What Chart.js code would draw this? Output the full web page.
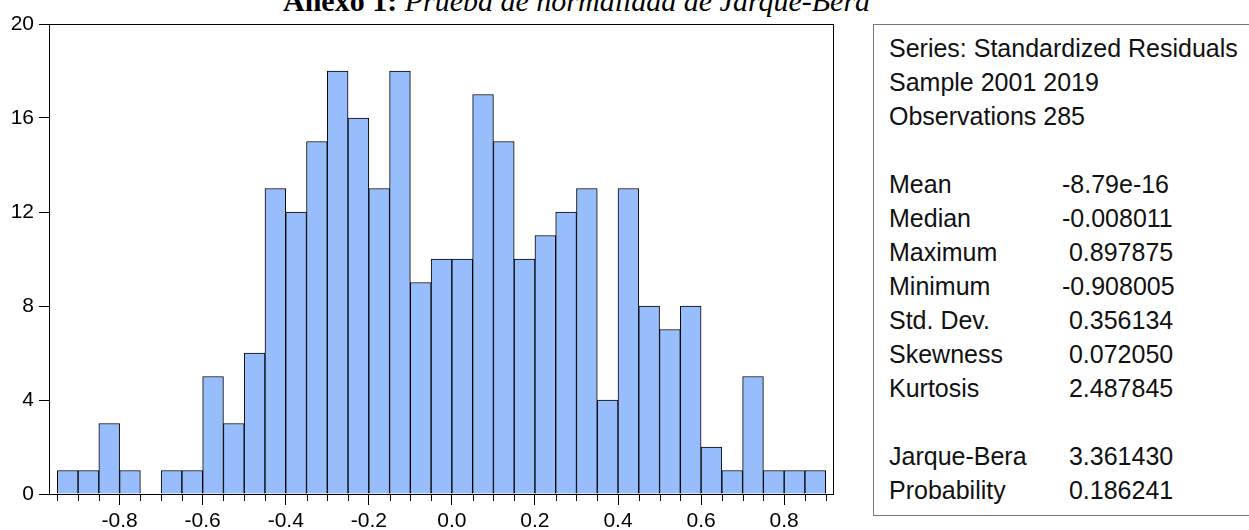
<!DOCTYPE html>
<html lang="es">
<head>
<meta charset="UTF-8">
<title>Histograma residuos</title>
<script src="https://cdn.jsdelivr.net/npm/chart.js"></script>
<style>
  body { margin: 0; background: #fff; width: 1249px; height: 530px; overflow: hidden; position: relative; }
  #title { position: absolute; left: 283px; top: -14px; font-family: "Liberation Serif", "Times New Roman", serif; font-size: 30px; line-height: 30px; white-space: nowrap; color: #000; }
  #title b { font-weight: bold; }
  #title i { font-style: italic; }
  #wrap { position: absolute; left: 0; top: 0; width: 840px; height: 530px; }
  #stats { position: absolute; left: 873px; top: 24px; width: 420px; height: 490px; border: 1px solid #777; border-right: none;
           font-family: "Liberation Sans", Arial, sans-serif; font-size: 25px; line-height: 34px; color: #111; }
  #stats .row { position: relative; height: 34px; white-space: pre; }
  #stats .lab { position: absolute; left: 15px; top: 6px; }
  #stats .val { position: absolute; left: 188px; top: 6px; }
</style>
</head>
<body>
<div id="title"><b>Anexo 1:</b> <i>Prueba de normalidad de Jarque-Bera</i></div>
<div id="wrap"><canvas id="hist"></canvas></div>
<div id="stats"></div>
<script>
// histogram bins (left edge of each bin) and counts
const binStart = [-0.95, -0.90, -0.85, -0.80, -0.75, -0.70, -0.65, -0.60, -0.55, -0.50,
                  -0.45, -0.40, -0.35, -0.30, -0.25, -0.20, -0.15, -0.10, -0.05, 0.00,
                  0.05, 0.10, 0.15, 0.20, 0.25, 0.30, 0.35, 0.40, 0.45, 0.50,
                  0.55, 0.60, 0.65, 0.70, 0.75, 0.80, 0.85];
const counts = [1, 1, 3, 1, 0, 1, 1, 5, 3, 6,
                13, 12, 15, 18, 16, 13, 18, 9, 10, 10,
                17, 15, 10, 11, 12, 13, 4, 13, 8, 7,
                8, 2, 1, 5, 1, 1, 1];
const binWidth = 0.05;

const xTickValues = [-0.8, -0.6, -0.4, -0.2, 0.0, 0.2, 0.4, 0.6, 0.8];
const xTickLabels = ['-0.8', '-0.6', '-0.4', '-0.2', '0.0', '0.2', '0.4', '0.6', '0.8'];
const yTickValues = [0, 4, 8, 12, 16, 20];

// summary statistics box
const headLines = ['Series: Standardized Residuals', 'Sample 2001 2019', 'Observations 285'];
const statLabels = ['Mean', 'Median', 'Maximum', 'Minimum', 'Std. Dev.', 'Skewness', 'Kurtosis'];
const statValues = ['-8.79e-16', '-0.008011', ' 0.897875', '-0.908005', ' 0.356134', ' 0.072050', ' 2.487845'];
const testLabels = ['Jarque-Bera', 'Probability'];
const testValues = [' 3.361430', ' 0.186241'];

// fill the stats box
let stats = document.getElementById('stats');
function addRow(lab, val) {
    let r = document.createElement('div');
    r.className = 'row';
    r.innerHTML = '<span class="lab"></span><span class="val"></span>';
    r.querySelector('.lab').textContent = lab || '';
    r.querySelector('.val').textContent = val || '';
    stats.appendChild(r);
}
headLines.forEach(t => addRow(t, ''));
addRow('', '');
statLabels.forEach((t, i) => addRow(t, statValues[i]));
addRow('', '');
testLabels.forEach((t, i) => addRow(t, testValues[i]));

// edges of all bins for the small ticks
let edges = binStart.concat([binStart[binStart.length - 1] + binWidth]);
const isMajor = v => xTickValues.some(m => Math.abs(m - v) < 1e-6);

let points = binStart.map((s, i) => ({ x: s + binWidth / 2, y: counts[i] === 0 ? null : counts[i] }));

const frame = {
    id: 'frame',
    afterDraw(chart) {
        let ctx = chart.ctx, a = chart.chartArea, xs = chart.scales.x;
        ctx.save();
        ctx.strokeStyle = '#000';
        ctx.lineWidth = 1;
        ctx.strokeRect(a.left + 0.5, a.top + 0.5, a.right - a.left - 1, a.bottom - a.top);
        // minor ticks on every bin edge
        ctx.beginPath();
        edges.forEach(v => {
            if (isMajor(v)) return;
            let px = Math.round(xs.getPixelForValue(v)) + 0.5;
            ctx.moveTo(px, a.bottom);
            ctx.lineTo(px, a.bottom + 7);
        });
        ctx.stroke();
        ctx.restore();
    }
};

new Chart(document.getElementById('hist'), {
    type: 'bar',
    data: {
        datasets: [{
            data: points,
            backgroundColor: '#97bdfd',
            borderColor: '#000',
            borderWidth: 1,
            barPercentage: 1,
            categoryPercentage: 1
        }]
    },
    options: {
        responsive: true,
        maintainAspectRatio: false,
        animation: false,
        events: [],
        layout: { padding: { top: 24, right: 6, left: 0, bottom: 0 } },
        plugins: { legend: { display: false }, tooltip: { enabled: false }, title: { display: false } },
        scales: {
            x: {
                type: 'linear',
                min: -0.97,
                max: 0.92,
                offset: false,
                border: { display: false },
                grid: { display: true, drawOnChartArea: false, drawTicks: true, offset: false, tickLength: 11,
                        tickColor: c => isMajor(c.tick.value) ? '#000' : 'rgba(0,0,0,0)' },
                afterBuildTicks: s => { s.ticks = edges.map(v => ({ value: v })); },
                afterFit: s => { s.height = 36; },
                ticks: {
                    autoSkip: false, maxRotation: 0, padding: 4, color: '#000',
                    font: { family: '"Liberation Sans", Arial, sans-serif', size: 21 },
                    callback: v => { let i = xTickValues.findIndex(m => Math.abs(m - v) < 1e-6); return i < 0 ? '' : xTickLabels[i]; }
                }
            },
            y: {
                min: 0,
                max: 20,
                border: { display: false },
                grid: { display: true, drawOnChartArea: false, drawTicks: true, tickLength: 10, tickColor: '#000' },
                afterBuildTicks: s => { s.ticks = yTickValues.map(v => ({ value: v })); },
                afterFit: s => { s.width = 49; },
                ticks: { padding: 5, color: '#000', font: { family: '"Liberation Sans", Arial, sans-serif', size: 21 } }
            }
        }
    },
    plugins: [frame]
});
</script>
</body>
</html>
